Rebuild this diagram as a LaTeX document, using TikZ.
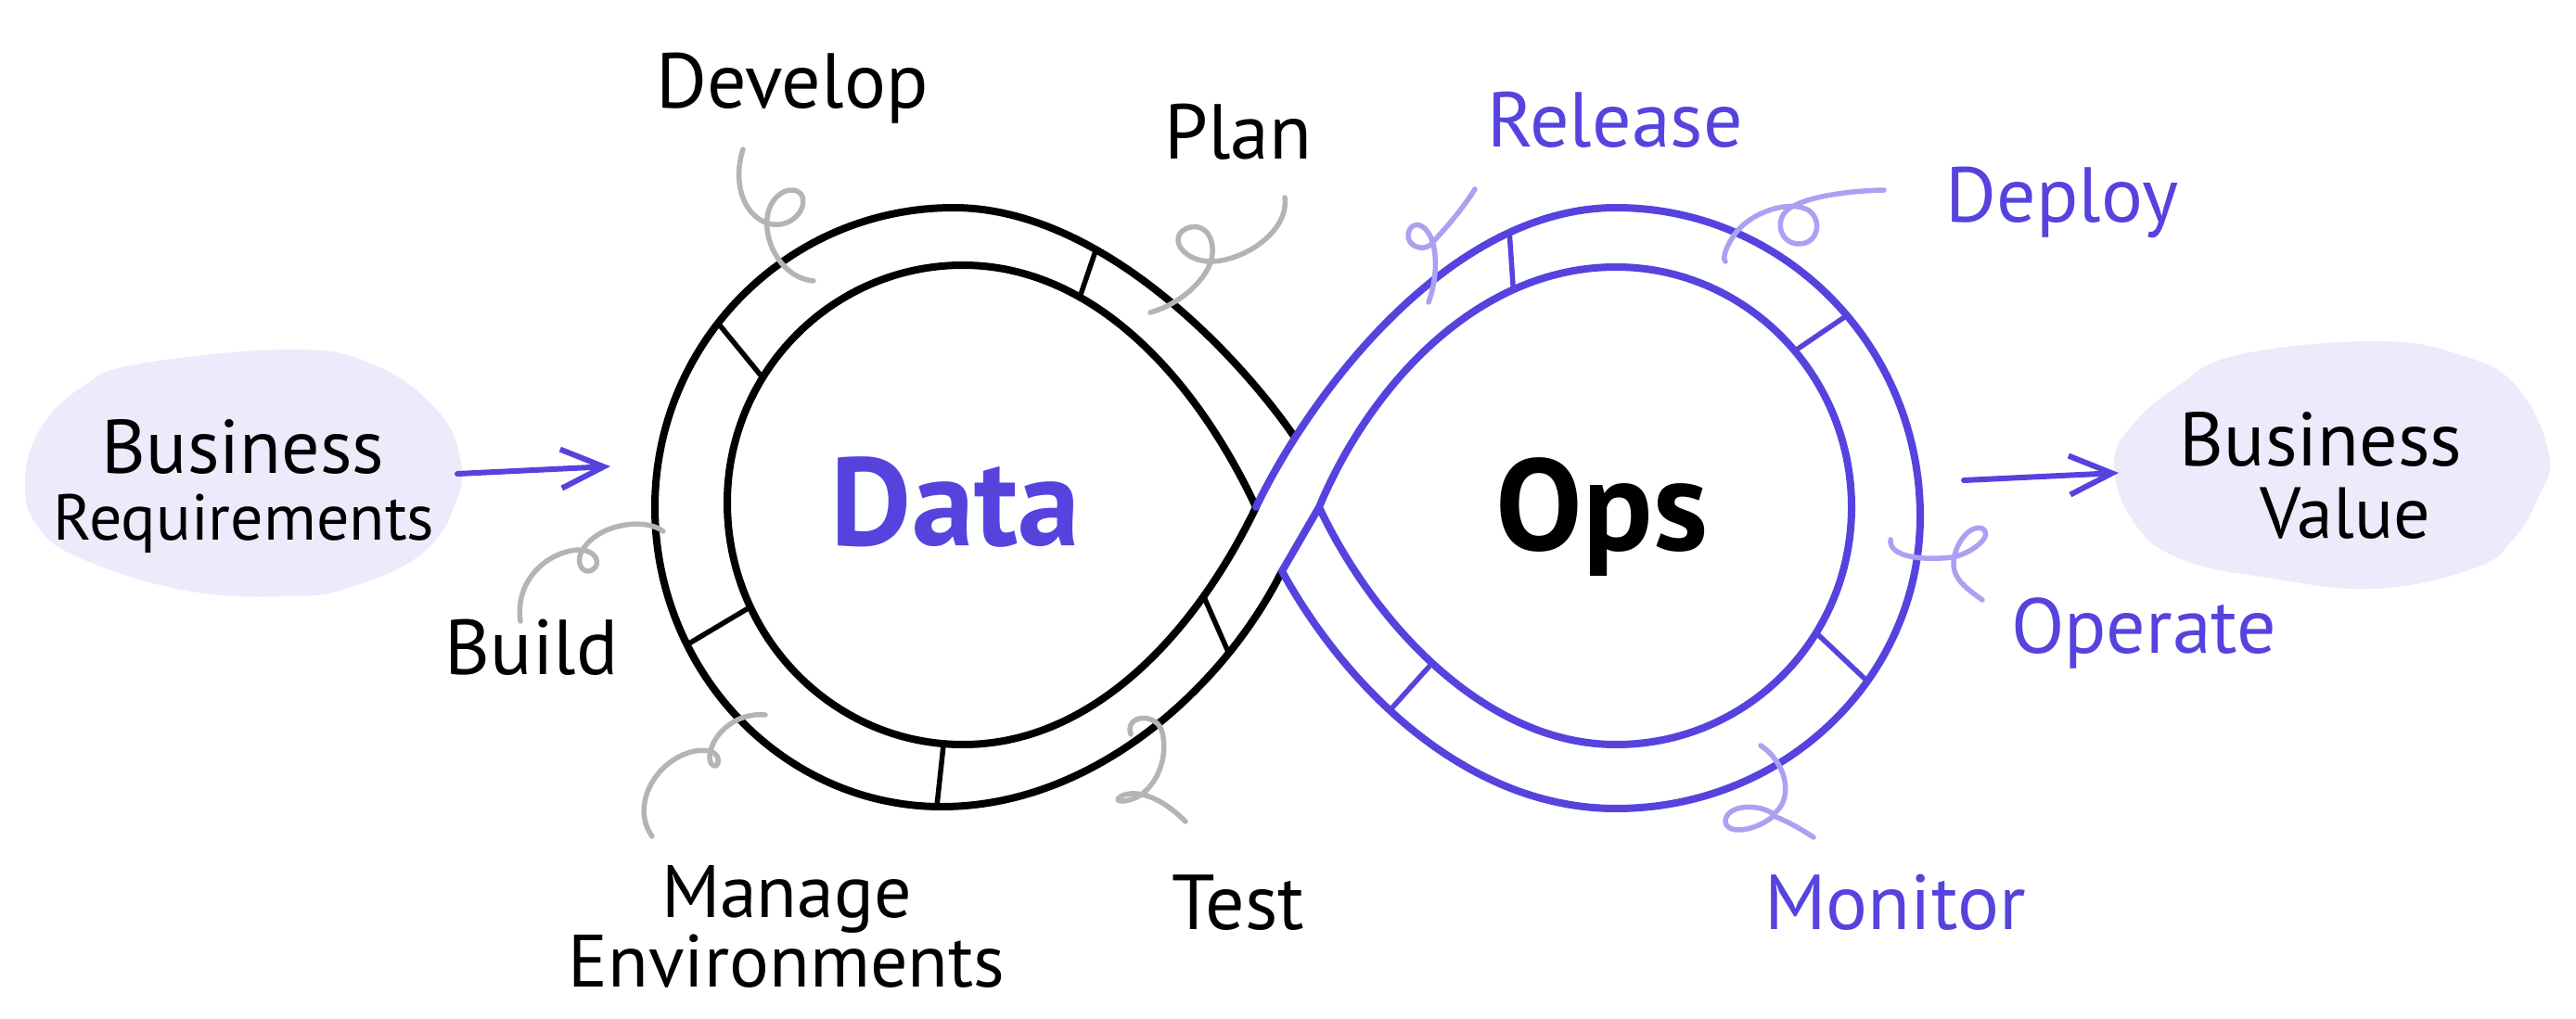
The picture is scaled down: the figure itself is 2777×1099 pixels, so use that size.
\documentclass[tikz,border=0pt]{standalone}
\usepackage{fontspec}
\setmainfont{PT Sans}
\usetikzlibrary{arrows.meta}
\definecolor{inkblue}{HTML}{5643DE}
\definecolor{lavline}{HTML}{ABA1F2}
\definecolor{greyline}{HTML}{B4B4B4}
\definecolor{blobfill}{HTML}{ECEAFB}
\begin{document}
\begin{tikzpicture}[x=1pt,y=-1pt,line cap=round,line join=round,
  ring/.style={line width=8pt},
  divider/.style={line width=5.5pt},
  curl/.style={line width=5.5pt},
  lbl/.style={inner sep=0pt,anchor=base,font=\fontsize{84}{96}\selectfont},
  blobtext/.style={inner sep=0pt,anchor=base},
  flow/.style={line width=6pt,draw=inkblue,-{Straight Barb[length=46pt,width=42pt]}}]
\useasboundingbox (0,0) rectangle (2777,1099);

% ---------- blobs ----------
\fill[blobfill] plot[smooth cycle,tension=0.7] coordinates {(27,517) (45,460) (89,417) (147,393) (313,377) (402,393) (469,440) (496,493) (491,543) (455,597) (379,633) (313,643) (201,637) (89,603) (40,567)};
\fill[blobfill] plot[smooth cycle,tension=0.7] coordinates {(2279,500) (2300,457) (2347,417) (2412,383) (2560,368) (2653,383) (2713,417) (2748,490) (2736,537) (2708,583) (2667,613) (2560,635) (2444,623) (2351,603) (2300,563)};

% ---------- key points of the ribbon ----------
\coordinate (A) at (1354,547);
\coordinate (B) at (1422,547);
\coordinate (C) at (1382,616);
\coordinate (D) at (1396,472);
\coordinate (LOt) at (1028,224); \coordinate (LOl) at (706,547); \coordinate (LOb) at (1015,870);
\coordinate (LIt) at (1038,286); \coordinate (LIl) at (784,542); \coordinate (LIb) at (1038,803);
\coordinate (ROt) at (1742,224); \coordinate (ROr) at (2070,557); \coordinate (ROb) at (1742,872);
\coordinate (RIt) at (1742,288); \coordinate (RIr) at (1996,547); \coordinate (RIb) at (1742,803);

% ---------- left loop (black) ----------
\draw[ring,black] (D) .. controls (1340,390) and (1190,224) .. (LOt) coordinate[pos=0.67] (lo2)
  .. controls (850,224) and (706,369) .. (LOl) coordinate[pos=0.58] (lo1)
  .. controls (706,725) and (845,870) .. (LOb) coordinate[pos=0.3] (lo3) coordinate[pos=0.99] (lo4)
  .. controls (1180,870) and (1320,740) .. (C) coordinate[pos=0.76] (lo5);
\draw[ring,black] (A) .. controls (1290,410) and (1180,286) .. (LIt) coordinate[pos=0.68] (li2)
  .. controls (898,286) and (784,401) .. (LIl) coordinate[pos=0.65] (li1)
  .. controls (784,686) and (898,803) .. (LIb) coordinate[pos=0.28] (li3) coordinate[pos=0.95] (li4)
  .. controls (1180,803) and (1290,680) .. (A) coordinate[pos=0.75] (li5);

% ---------- right loop (blue) ----------
\draw[ring,inkblue] (A) .. controls (1410,430) and (1560,224) .. (ROt) coordinate[pos=0.78] (ro1)
  .. controls (1923,224) and (2070,373) .. (ROr) coordinate[pos=0.55] (ro2)
  .. controls (2070,730) and (1925,872) .. (ROb) coordinate[pos=0.38] (ro3)
  .. controls (1580,872) and (1450,740) .. (C) coordinate[pos=0.58] (ro4);
\draw[ring,inkblue] (C) -- (B) .. controls (1475,420) and (1590,288) .. (RIt) coordinate[pos=0.74] (ri1)
  .. controls (1882,288) and (1996,404) .. (RIr) coordinate[pos=0.55] (ri2)
  .. controls (1996,690) and (1882,803) .. (RIb) coordinate[pos=0.35] (ri3)
  .. controls (1600,803) and (1480,670) .. (B) coordinate[pos=0.52] (ri4);

% ---------- dividers ----------
\foreach \i in {1,...,5} \draw[divider,black] (lo\i) -- (li\i);
\foreach \i in {1,...,4} \draw[divider,inkblue] (ro\i) -- (ri\i);

% ---------- labels ----------
\node[lbl] (dev) at (854,117) {Develop};
\node[lbl] (plan) at (1335,172) {Plan};
\node[lbl,text=inkblue] (rel) at (1741,159) {Release};
\node[lbl,text=inkblue] (dep) at (2223,240) {Deploy};
\node[lbl] (bld) at (573,727) {Build};
\node[inner sep=0pt,anchor=base,align=center,font=\fontsize{80}{72}\selectfont] (mng) at (848,1064) {Manage\\Environments};
\node[lbl] (tst) at (1335,1002) {Test};
\node[lbl,text=inkblue] (mon) at (2043,1002) {Monitor};
\node[lbl,text=inkblue] (opr) at (2311,704) {Operate};

\node[font=\fontsize{135}{140}\selectfont\bfseries,text=inkblue,inner sep=0pt,anchor=base] (data) at (1030,588) {Data};
\node[font=\fontsize{140}{140}\selectfont\bfseries,inner sep=0pt,anchor=base] (ops) at (1727,593) {Ops};

\node[blobtext,font=\fontsize{82}{82}\selectfont] (breq1) at (262,510) {Business};
\node[blobtext,font=\fontsize{70}{70}\selectfont] (breq2) at (263,582) {Requirements};
\node[blobtext,font=\fontsize{82}{82}\selectfont] (bval1) at (2502,502) {Business};
\node[blobtext,font=\fontsize{78}{78}\selectfont] (bval2) at (2528,580) {Value};

% ---------- flow arrows ----------
\coordinate (inS) at (493,511);
\coordinate (inE) at (658,503);
\coordinate (outS) at (2117,518);
\coordinate (outE) at (2284,510);
\draw[flow] (inS) -- (inE);
\draw[flow] (outS) -- (outE);

% ---------- curly connectors ----------
\draw[curl,greyline] (801,161) .. controls (790,195) and (800,232) .. (828,241) .. controls (852,248) and (872,225) .. (864,210) .. controls (855,198) and (830,208) .. (827,235) .. controls (824,265) and (845,300) .. (877,303);
\draw[curl,greyline] (1385,213) .. controls (1390,250) and (1340,282) .. (1305,282) .. controls (1275,282) and (1258,255) .. (1280,246) .. controls (1302,238) and (1315,265) .. (1302,290) .. controls (1290,312) and (1265,330) .. (1240,337);
\draw[curl,greyline] (715,573) .. controls (695,558) and (648,565) .. (630,590) .. controls (618,606) and (628,620) .. (638,615) .. controls (650,608) and (642,592) .. (622,593) .. controls (590,596) and (555,625) .. (561,670);
\draw[curl,greyline] (825,771) .. controls (795,768) and (768,790) .. (765,815) .. controls (764,828) and (776,830) .. (774,818) .. controls (772,808) and (755,808) .. (745,811) .. controls (705,822) and (680,870) .. (703,902);
\draw[curl,greyline] (1219,792) .. controls (1212,770) and (1248,768) .. (1253,790) .. controls (1260,820) and (1245,850) .. (1225,860) .. controls (1210,867) and (1198,864) .. (1210,858) .. controls (1225,852) and (1250,858) .. (1278,886);
\draw[curl,lavline] (1590,204) .. controls (1575,228) and (1555,250) .. (1541,265) .. controls (1530,272) and (1512,262) .. (1520,247) .. controls (1528,235) and (1543,248) .. (1546,268) .. controls (1550,290) and (1545,312) .. (1540,326);
\draw[curl,lavline] (2031,205) .. controls (1990,206) and (1950,212) .. (1930,224) .. controls (1912,235) and (1918,262) .. (1938,263) .. controls (1960,264) and (1965,238) .. (1950,227) .. controls (1930,215) and (1890,228) .. (1872,250) .. controls (1862,263) and (1856,278) .. (1860,282);
\draw[curl,lavline] (2038,582) .. controls (2036,603) and (2080,604) .. (2105,601) .. controls (2125,597) and (2150,578) .. (2137,570) .. controls (2122,565) and (2105,590) .. (2106,610) .. controls (2107,625) and (2120,635) .. (2137,647);
\draw[curl,lavline] (1898,804) .. controls (1925,822) and (1935,860) .. (1912,878) .. controls (1895,866) and (1862,868) .. (1860,885) .. controls (1860,900) and (1890,898) .. (1912,880) .. controls (1925,885) and (1940,893) .. (1955,903);
\end{tikzpicture}
\end{document}
